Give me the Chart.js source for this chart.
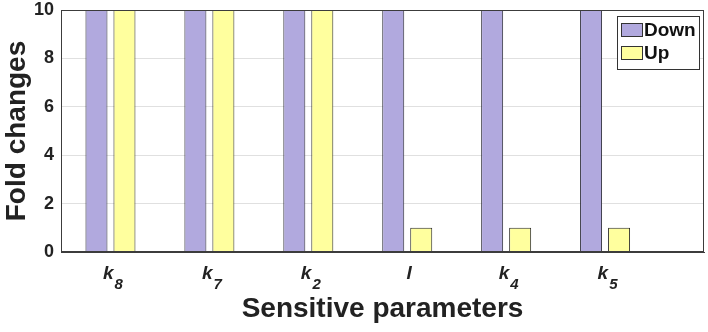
<!DOCTYPE html>
<html>
<head>
<meta charset="utf-8">
<script src="https://cdn.jsdelivr.net/npm/chart.js@4/dist/chart.umd.min.js"></script>
<style>
  html, body { margin: 0; padding: 0; background: #fff; }
  #wrap { width: 708px; height: 332px; }
</style>
</head>
<body>
<div id="wrap"><canvas id="foldChart" width="708" height="332"></canvas></div>
<script>
// parameter names, "k_8" means k with subscript 8
const categories = ['k_8', 'k_7', 'k_2', 'l', 'k_4', 'k_5'];
const downValues = [10, 10, 10, 10, 10, 10];
const upValues = [10, 10, 10, 1, 1, 1];
const yTicks = [0, 2, 4, 6, 8, 10];

const FONT = '"Liberation Sans", Arial, Helvetica, sans-serif';
const axisColor = '#3c3c3c';

// x tick labels with subscripts, placed with the x scale
const subLabels = {
    id: 'subLabels',
    afterDraw(chart) {
        const ctx = chart.ctx;
        const xs = chart.scales.x;
        ctx.save();
        ctx.fillStyle = '#222';
        ctx.textBaseline = 'alphabetic';
        ctx.textAlign = 'left';
        categories.forEach((name, i) => {
            const parts = name.split('_');
            const x = xs.getPixelForValue(i + 1);
            ctx.font = 'italic bold 19px ' + FONT;
            const w1 = ctx.measureText(parts[0]).width;
            let w2 = 0;
            if (parts[1]) {
                ctx.font = 'italic bold 15px ' + FONT;
                w2 = ctx.measureText(parts[1]).width;
            }
            const start = x - (w1 + w2) / 2 + 2;
            ctx.font = 'italic bold 19px ' + FONT;
            ctx.fillText(parts[0], start, 279);
            if (parts[1]) {
                ctx.font = 'italic bold 15px ' + FONT;
                ctx.fillText(parts[1], start + w1 + 1, 289);
            }
        });
        ctx.restore();
    }
};

// box round the plot and legend in the top right corner
const frameAndLegend = {
    id: 'frameAndLegend',
    afterDraw(chart) {
        const ctx = chart.ctx;
        const a = chart.chartArea;
        ctx.save();
        ctx.strokeStyle = axisColor;
        ctx.lineWidth = 1;
        ctx.strokeRect(Math.round(a.left) + 0.5, Math.round(a.top) + 0.5,
            Math.round(a.right - a.left) - 1, Math.round(a.bottom - a.top) - 1);

        const bx = 617.5, by = 16.5, bw = 82, bh = 53;
        ctx.fillStyle = '#fff';
        ctx.fillRect(bx, by, bw, bh);
        ctx.strokeStyle = '#333';
        ctx.strokeRect(bx, by, bw, bh);
        chart.data.datasets.forEach((ds, i) => {
            const sy = 23.5 + i * 23;
            ctx.fillStyle = ds.backgroundColor;
            ctx.fillRect(621.5, sy, 21, 13);
            ctx.strokeStyle = '#333';
            ctx.strokeRect(621.5, sy, 21, 13);
            ctx.fillStyle = '#111';
            ctx.font = 'bold 19px ' + FONT;
            ctx.textBaseline = 'middle';
            ctx.fillText(ds.label, 644, sy + 7.5);
        });
        ctx.restore();
    }
};

const toPoints = arr => arr.map((v, i) => ({ x: i + 1, y: v }));

new Chart(document.getElementById('foldChart').getContext('2d'), {
    type: 'bar',
    data: {
        datasets: [{
            label: 'Down',
            data: toPoints(downValues),
            backgroundColor: '#b1a9de',
            borderColor: '#2a2a35',
            borderWidth: 1,
            categoryPercentage: 0.566,
            barPercentage: 0.786
        }, {
            label: 'Up',
            data: toPoints(upValues),
            backgroundColor: '#ffff9e',
            borderColor: '#2a2a25',
            borderWidth: 1,
            categoryPercentage: 0.566,
            barPercentage: 0.786
        }]
    },
    options: {
        responsive: false,
        animation: false,
        layout: { padding: { left: 0, top: 10, right: 4, bottom: 0 } },
        plugins: {
            legend: { display: false },
            tooltip: { enabled: false }
        },
        scales: {
            x: {
                type: 'linear',
                min: 0.5,
                max: 7,
                offset: false,
                afterBuildTicks: (scale) => { scale.ticks = categories.map((c, i) => ({ value: i + 1 })); },
                grid: { display: false },
                border: { color: axisColor },
                ticks: { display: false },
                title: {
                    display: true,
                    text: 'Sensitive parameters',
                    color: '#222',
                    font: { family: FONT, size: 28, weight: 'bold' },
                    padding: { top: 0, bottom: 6 }
                },
                afterFit: (scale) => { scale.height = 80; }
            },
            y: {
                min: 0,
                max: 10,
                z: 1,
                afterBuildTicks: (scale) => { scale.ticks = yTicks.map(v => ({ value: v })); },
                grid: { color: 'rgba(0,0,0,0.12)', drawTicks: false },
                border: { color: axisColor },
                ticks: {
                    padding: 7,
                    color: '#222',
                    font: { family: FONT, size: 18, weight: 'bold' }
                },
                title: {
                    display: true,
                    text: 'Fold changes',
                    color: '#222',
                    font: { family: FONT, size: 28, weight: 'bold' },
                    padding: { top: 0, bottom: 0 }
                },
                afterFit: (scale) => {
                    scale.width = 61;
                    scale.paddingTop = 0;
                    scale.paddingBottom = 0;
                }
            }
        }
    },
    plugins: [subLabels, frameAndLegend]
});
</script>
</body>
</html>
